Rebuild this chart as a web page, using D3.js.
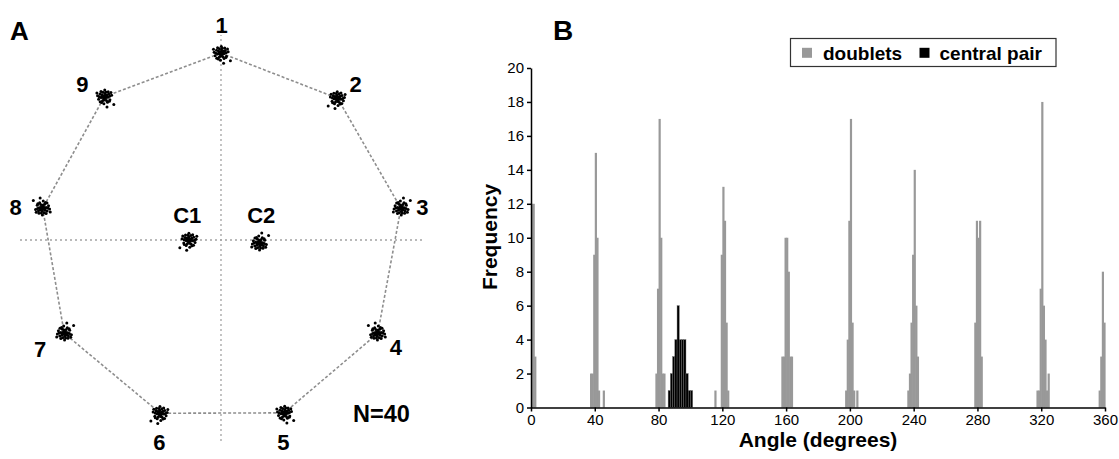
<!DOCTYPE html>
<html><head><meta charset="utf-8">
<script src="https://cdn.jsdelivr.net/npm/d3@7"></script>
<style>
html,body{margin:0;padding:0;background:#fff;}
svg{display:block;font-family:"Liberation Sans",Arial,Helvetica,sans-serif;}
</style></head>
<body>
<svg id="chart" width="1119" height="459"></svg>
<script>
// ---------- Panel A data ----------
const clusterNames = ["1","2","3","4","5","6","7","8","9","C1","C2"];
const clusterX = [0, 58, 89.5, 78, 31.5, -30.2, -78, -88.7, -58, -15.8, 19];
const clusterY = [93, 70.5, 15.8, -46.4, -86, -86.2, -46.4, 15.8, 71.3, 0, -1.6];
const ringOrder = ["1","2","3","4","5","6","7","8","9"];
// hand-read scatter shape of one cluster (offsets in plot units)
const scatterDX = [0,1,-1,0.5,-0.5,1.5,-1.5,2,-2,0.3,-0.2,2.5,-2.6,1.2,-1.1,3,-3,0.8,-0.9,3.2,-3.4,2.2,-2,1.8,-1.6,4.2,-4,0.2,-0.3,0.6,-0.7,1.1,-1.3,0.4,2.9,-2.5,3.8,-4.4,1.5,5.5];
const scatterDY = [0,0.5,0.3,-1,-0.8,1,1.2,-0.3,-0.5,1.8,-1.9,1.5,1.6,-2.2,-2.4,0.2,-0.1,2.8,2.6,-1.8,-1.5,2.9,3.1,-3.2,-3.4,0.8,0.5,3.9,-4.2,0.9,0.6,-0.4,-0.2,-0.2,-2.6,-3,2.4,2.2,-6,-4.5];
const sampleLabel = "N=40";

// ---------- Panel B data ----------
const xTicksB = [0,40,80,120,160,200,240,280,320,360];
const yTicksB = [0,2,4,6,8,10,12,14,16,18,20];
// doublets: [angle bin start (deg), frequency]
const doubletBins = [
  [0,12],[1,12],[2,3],
  [37,2],[38,2],[39,9],[40,15],[41,10],[42,1],[45,1],
  [78,2],[79,7],[80,17],[81,10],[82,2],[83,2],
  [115,1],[119,9],[120,13],[121,11],[122,5],[123,1],
  [157,3],[158,3],[159,10],[160,10],[161,8],[162,3],[163,3],
  [197,1],[198,4],[199,11],[200,17],[201,5],[202,1],[204,1],
  [236,1],[237,2],[238,5],[239,9],[240,14],[241,6],[242,3],
  [278,5],[279,11],[280,10],[281,11],[282,3],
  [317,1],[318,1],[319,7],[320,18],[321,6],[322,4],[323,1],[324,2],
  [356,1],[357,3],[358,8],[359,5]
];
const doubletWidth = 1;
// central pair: bin starts (deg) and frequencies
const centralAngles = [86,87.4,88.8,90.2,91.6,93,94.4,95.8,97.2,98.6,100];
const centralCounts = [1,2,3,4,6,4,4,4,2,1,1];
const centralWidth = 1.4;
const legendItems = ["doublets","central pair"];

// ---------- drawing ----------
const svg = d3.select("#chart");
const FONT = '"Liberation Sans",Arial,Helvetica,sans-serif';

// Panel A
const xA = d3.scaleLinear().domain([-100,100]).range([20,422]);
const yA = d3.scaleLinear().domain([-100,100]).range([441,39]);
const gA = svg.append("g");
gA.append("line").attr("x1",xA(-100)).attr("x2",xA(100)).attr("y1",yA(0)).attr("y2",yA(0))
  .attr("stroke","#a3a3a3").attr("stroke-width",1.3).attr("stroke-dasharray","2,3");
gA.append("line").attr("x1",xA(0)).attr("x2",xA(0)).attr("y1",yA(-100)).attr("y2",yA(102))
  .attr("stroke","#a3a3a3").attr("stroke-width",1.3).attr("stroke-dasharray","2,3");

const clusters = clusterNames.map((n,i)=>({name:n,x:clusterX[i],y:clusterY[i],i}));
const byName = Object.fromEntries(clusters.map(c=>[c.name,c]));
const ring = ringOrder.map(n=>byName[n]);
gA.append("path").datum(ring)
  .attr("d", d3.line().x(d=>xA(d.x)).y(d=>yA(d.y)).curve(d3.curveLinearClosed))
  .attr("fill","none").attr("stroke","#8e8e8e").attr("stroke-width",1.6).attr("stroke-dasharray","3,2");

const flips = [[1,1],[-1,1],[1,-1],[-1,-1]];
const pts = [];
clusters.forEach(c=>{
  const f = flips[c.i % 4];
  scatterDX.forEach((dx,k)=>{
    pts.push({x:c.x + f[0]*dx*0.85, y:c.y + f[1]*scatterDY[k]*0.85});
  });
});
gA.selectAll("circle.pt").data(pts).join("circle").attr("class","pt")
  .attr("cx",d=>xA(d.x)).attr("cy",d=>yA(d.y)).attr("r",1.5).attr("fill","#000");

// label offsets in px (layout)
const labelOffset = {"1":[0.5,-20],"2":[18,-6],"3":[21.5,7],"4":[18,22],"5":[-1,37],"6":[-1,37],
  "7":[-24,24],"8":[-27,7],"9":[-22,-5],"C1":[-2,-17],"C2":[2,-20]};
gA.selectAll("text.cl").data(clusters).join("text").attr("class","cl")
  .attr("x",d=>xA(d.x)+labelOffset[d.name][0]).attr("y",d=>yA(d.y)+labelOffset[d.name][1])
  .attr("text-anchor","middle").attr("font-size",22).attr("font-weight","bold").text(d=>d.name);
gA.append("text").attr("x",381.5).attr("y",422).attr("text-anchor","middle")
  .attr("font-size",23.5).attr("font-weight","bold").text(sampleLabel);
svg.append("text").attr("x",10).attr("y",40).attr("font-size",26).attr("font-weight","bold").text("A");

// Panel B
const xB = d3.scaleLinear().domain([0,360]).range([531,1105]);
const yB = d3.scaleLinear().domain([0,20]).range([407.5,68]);
const gB = svg.append("g");
svg.append("text").attr("x",553).attr("y",40).attr("font-size",28).attr("font-weight","bold").text("B");

gB.selectAll("rect.db").data(doubletBins).join("rect").attr("class","db")
  .attr("x",d=>xB(d[0])).attr("width",d=>xB(d[0]+doubletWidth)-xB(d[0])+0.6)
  .attr("y",d=>yB(d[1])).attr("height",d=>yB(0)-yB(d[1])).attr("fill","#999999");

const central = centralAngles.map((a,i)=>[a,centralCounts[i]]);
gB.selectAll("rect.cp").data(central).join("rect").attr("class","cp")
  .attr("x",d=>xB(d[0])).attr("width",d=>xB(d[0]+centralWidth)-xB(d[0]))
  .attr("y",d=>yB(d[1])).attr("height",d=>yB(0)-yB(d[1]))
  .attr("fill","#000").attr("stroke","#6a6a6a").attr("stroke-width",0.4);

const xAxis = gB.append("g").attr("transform",`translate(0,${yB(0)})`)
  .call(d3.axisBottom(xB).tickValues(xTicksB).tickSize(4).tickSizeOuter(0).tickPadding(3));
const yAxis = gB.append("g").attr("transform",`translate(${xB(0)},0)`)
  .call(d3.axisLeft(yB).tickValues(yTicksB).tickSize(4).tickSizeOuter(0).tickPadding(3));
[xAxis,yAxis].forEach(a=>{
  a.selectAll("path,line").attr("stroke","#000").attr("stroke-width",1.5);
  a.selectAll("text").attr("font-size",15).attr("font-family",FONT).attr("fill","#000");
});

gB.append("text").attr("x",818).attr("y",447).attr("text-anchor","middle")
  .attr("font-size",21).attr("font-weight","bold").text("Angle (degrees)");
gB.append("text").attr("transform","translate(497,237) rotate(-90)").attr("text-anchor","middle")
  .attr("font-size",21).attr("font-weight","bold").text("Frequency");

// legend
const lg = gB.append("g");
lg.append("rect").attr("x",790.5).attr("y",38.5).attr("width",265.5).attr("height",28)
  .attr("fill","#fff").attr("stroke","#333").attr("stroke-width",1.2);
const legendColors = ["#999999","#000"];
const legendSwatchX = [802,919.5];
const legendTextX = [823,939.5];
legendItems.forEach((t,i)=>{
  lg.append("rect").attr("x",legendSwatchX[i]).attr("y",47.8).attr("width",10).attr("height",10).attr("fill",legendColors[i]);
  lg.append("text").attr("x",legendTextX[i]).attr("y",59.5).attr("font-size",19).attr("font-weight","bold").text(t);
});
</script>
</body></html>
